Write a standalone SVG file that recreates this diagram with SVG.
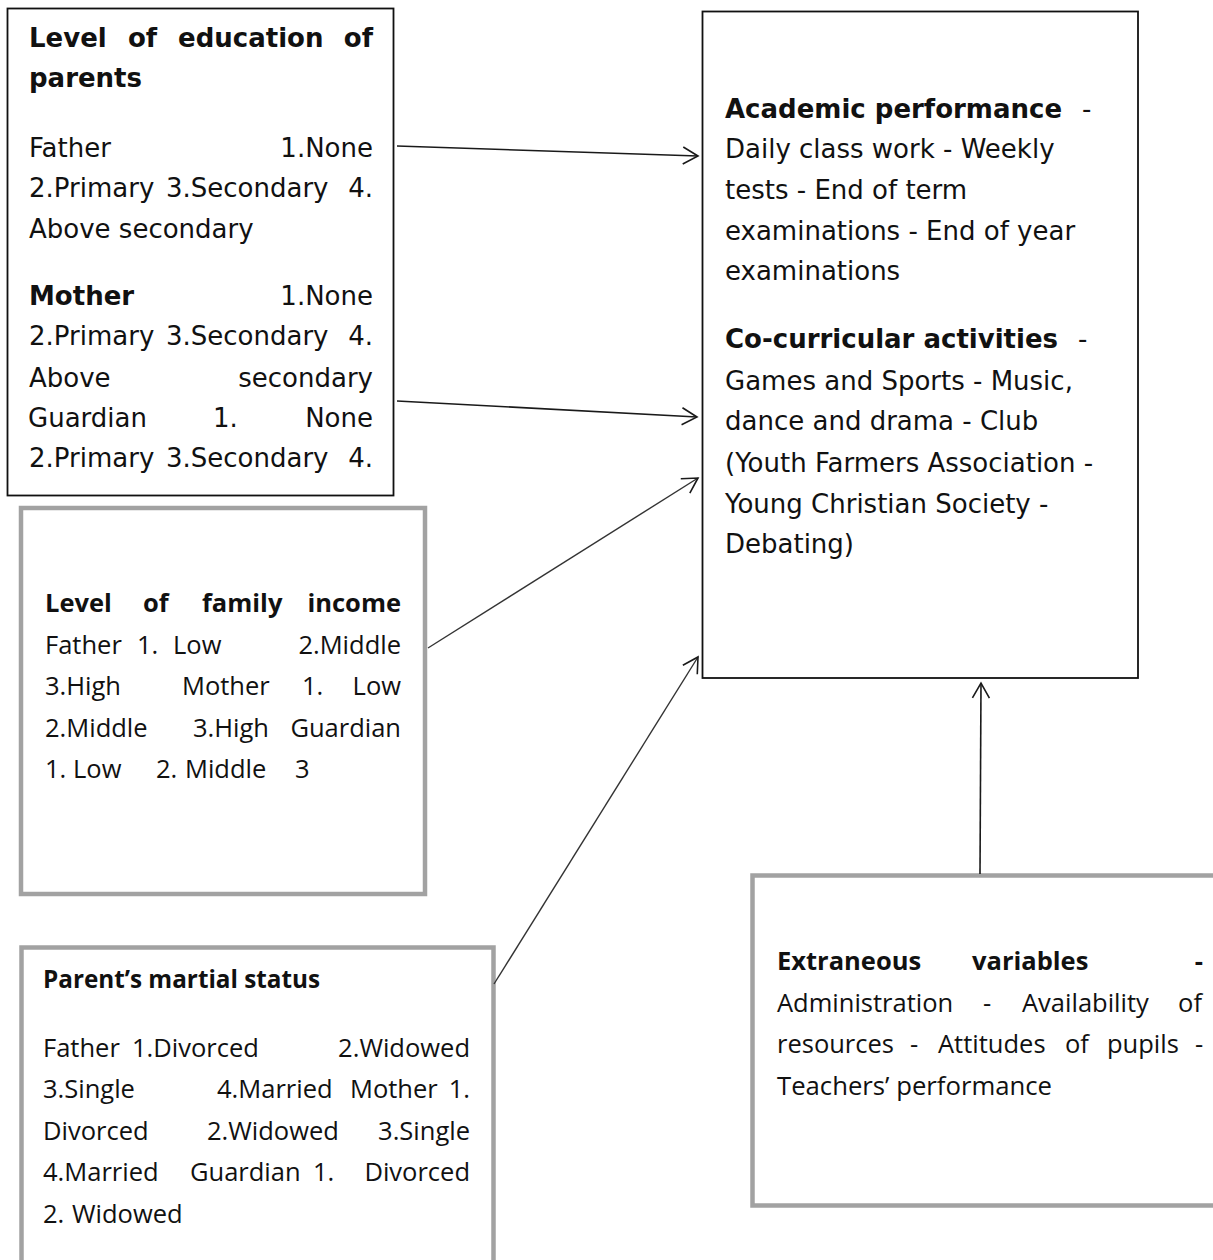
<svg xmlns="http://www.w3.org/2000/svg" width="1213" height="1260" viewBox="0 0 1213 1260">
<defs>
<style>
.v{font-family:"DejaVu Sans",Verdana,sans-serif;font-size:26px;fill:#111}
.vb{font-family:"DejaVu Sans",Verdana,sans-serif;font-size:26px;font-weight:bold;fill:#111}
.c{font-family:"Open Sans","Liberation Sans",sans-serif;font-size:25.5px;fill:#111}
.cb{font-family:"Open Sans","Liberation Sans",sans-serif;font-size:25.5px;font-weight:bold;fill:#111}
.e{text-anchor:end}
.bk{fill:#fff;stroke:#111;stroke-width:1.8}
.gr{fill:#fff;stroke:#a2a2a2;stroke-width:4.5}
.ar{fill:none;stroke:#1a1a1a;stroke-width:1.6;marker-end:url(#v)}
.ar2{fill:none;stroke:#333;stroke-width:1.4;marker-end:url(#v)}
</style>
<marker id="v" markerUnits="userSpaceOnUse" viewBox="-18 -11 20 22" refX="0" refY="0" markerWidth="20" markerHeight="22" orient="auto">
<path d="M-15,-8.5 L0,0 L-15,8.5" fill="none" stroke="#1a1a1a" stroke-width="1.6"/>
</marker>
</defs>
<rect width="1213" height="1260" fill="#fff"/>

<g id="education">
<rect class="bk" x="7.5" y="8.5" width="386" height="487"/>
<text class="vb" x="29" y="47">Level</text>
<text class="vb" x="128" y="47">of</text>
<text class="vb" x="178" y="47">education</text>
<text class="vb e" x="373" y="47">of</text>
<text class="vb" x="29" y="87">parents</text>
<text class="v" x="29" y="157">Father</text>
<text class="v e" x="373" y="157">1.None</text>
<text class="v" x="29" y="197">2.Primary</text>
<text class="v" x="166" y="197">3.Secondary</text>
<text class="v e" x="373" y="197">4.</text>
<text class="v" x="29" y="238">Above secondary</text>
<text class="vb" x="29" y="305">Mother</text>
<text class="v e" x="373" y="305">1.None</text>
<text class="v" x="29" y="345">2.Primary</text>
<text class="v" x="166" y="345">3.Secondary</text>
<text class="v e" x="373" y="345">4.</text>
<text class="v" x="29" y="387">Above</text>
<text class="v e" x="373" y="387">secondary</text>
<text class="v" x="28" y="427">Guardian</text>
<text class="v" x="213" y="427">1.</text>
<text class="v e" x="373" y="427">None</text>
<text class="v" x="29" y="467">2.Primary</text>
<text class="v" x="166" y="467">3.Secondary</text>
<text class="v e" x="373" y="467">4.</text>
</g>

<g id="performance">
<rect class="bk" x="702.5" y="11.5" width="435.5" height="666.5"/>
<text class="vb" x="725" y="118">Academic performance</text>
<text class="v" x="1082" y="118">-</text>
<text class="v" x="725" y="158">Daily class work - Weekly</text>
<text class="v" x="725" y="199">tests - End of term</text>
<text class="v" x="725" y="240">examinations - End of year</text>
<text class="v" x="725" y="280">examinations</text>
<text class="vb" x="725" y="348">Co-curricular activities</text>
<text class="v" x="1078" y="348">-</text>
<text class="v" x="725" y="390">Games and Sports - Music,</text>
<text class="v" x="725" y="430">dance and drama - Club</text>
<text class="v" x="725" y="472">(Youth Farmers Association -</text>
<text class="v" x="725" y="513">Young Christian Society -</text>
<text class="v" x="725" y="553">Debating)</text>
</g>

<g id="income">
<rect class="gr" x="21" y="508" width="404" height="386"/>
<text class="cb" x="45" y="612">Level</text>
<text class="cb" x="143" y="612">of</text>
<text class="cb" x="202" y="612">family</text>
<text class="cb e" x="401" y="612">income</text>
<text class="c" x="45" y="654">Father</text>
<text class="c" x="137" y="654">1.</text>
<text class="c" x="173" y="654">Low</text>
<text class="c e" x="401" y="654">2.Middle</text>
<text class="c" x="45" y="695">3.High</text>
<text class="c" x="182" y="695">Mother</text>
<text class="c" x="302" y="695">1.</text>
<text class="c e" x="401" y="695">Low</text>
<text class="c" x="45" y="737">2.Middle</text>
<text class="c" x="193" y="737">3.High</text>
<text class="c e" x="401" y="737">Guardian</text>
<text class="c" x="45" y="778">1.</text>
<text class="c" x="73" y="778">Low</text>
<text class="c" x="156" y="778">2.</text>
<text class="c" x="185" y="778">Middle</text>
<text class="c" x="295" y="778">3</text>
</g>

<g id="marital">
<rect class="gr" x="21.5" y="947.5" width="472" height="330"/>
<text class="cb" x="43" y="988" textLength="277" lengthAdjust="spacingAndGlyphs">Parent’s martial status</text>
<text class="c" x="43" y="1057">Father</text>
<text class="c" x="132" y="1057">1.Divorced</text>
<text class="c e" x="470" y="1057">2.Widowed</text>
<text class="c" x="43" y="1098">3.Single</text>
<text class="c" x="217" y="1098">4.Married</text>
<text class="c" x="350" y="1098">Mother</text>
<text class="c e" x="470" y="1098">1.</text>
<text class="c" x="43" y="1140">Divorced</text>
<text class="c" x="207" y="1140">2.Widowed</text>
<text class="c e" x="470" y="1140">3.Single</text>
<text class="c" x="43" y="1181">4.Married</text>
<text class="c" x="190" y="1181">Guardian</text>
<text class="c" x="313" y="1181">1.</text>
<text class="c e" x="470" y="1181">Divorced</text>
<text class="c" x="43" y="1223">2.</text>
<text class="c" x="72" y="1223">Widowed</text>
</g>

<g id="extraneous">
<rect class="gr" x="752.5" y="875.5" width="480" height="330"/>
<text class="cb" x="777" y="970">Extraneous</text>
<text class="cb" x="972" y="970">variables</text>
<text class="cb e" x="1203" y="970">-</text>
<text class="c" x="777" y="1012">Administration</text>
<text class="c" x="983" y="1012">-</text>
<text class="c" x="1022" y="1012">Availability</text>
<text class="c e" x="1202" y="1012">of</text>
<text class="c" x="777" y="1053">resources</text>
<text class="c" x="910" y="1053">-</text>
<text class="c" x="938" y="1053">Attitudes</text>
<text class="c" x="1065" y="1053">of</text>
<text class="c" x="1107" y="1053">pupils</text>
<text class="c" x="1195" y="1053">-</text>
<text class="c" x="777" y="1095" textLength="275" lengthAdjust="spacingAndGlyphs">Teachers’ performance</text>
</g>

<g id="connectors">
<path class="ar" d="M397,146 L698,156"/>
<path class="ar" d="M397,401 L697,417"/>
<path class="ar2" d="M428,648 L698,478"/>
<path class="ar2" d="M494,984 L698,657"/>
<path class="ar" d="M980,874 L981,683"/>
</g>
</svg>
